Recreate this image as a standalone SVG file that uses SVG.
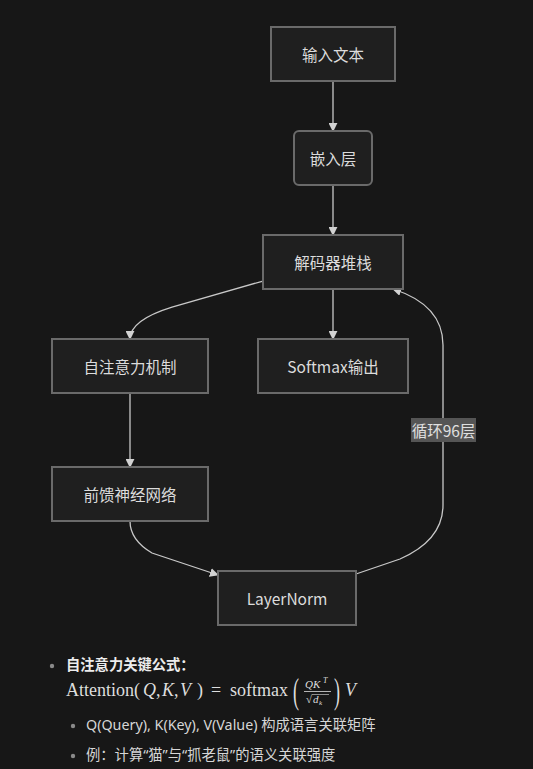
<svg xmlns="http://www.w3.org/2000/svg" width="533" height="769" viewBox="0 0 533 769">
<style>
.node rect{fill:#1f1f1f;stroke:#6a6a6a;stroke-width:2}
.node text{fill:#dcdcdc;font-family:"Noto Sans CJK SC","Noto Sans",sans-serif;font-size:15.5px;text-anchor:middle;dominant-baseline:central}
.edge{fill:none;stroke:#c8c8c8;stroke-width:1.3}
.note{fill:#d6d6d6;font-family:"Noto Sans","Noto Sans CJK SC",sans-serif;font-size:14.3px}
.math{fill:#dedede;font-family:"Liberation Serif","DejaVu Serif",serif;font-size:18px}
.bullet{fill:#8a8a8a}
</style>
<defs>
<marker id="arrow" viewBox="0 0 10 10" refX="9" refY="5" markerWidth="9" markerHeight="9" markerUnits="userSpaceOnUse" orient="auto">
<path d="M0,0 L10,5 L0,10 z" fill="#d2d2d2"/>
</marker>
</defs>
<rect width="533" height="769" fill="#171717"/>

<g id="connectors">
<path class="edge" d="M333,81 L333,131" marker-end="url(#arrow)"/>
<path class="edge" d="M333,185 L333,235" marker-end="url(#arrow)"/>
<path class="edge" d="M263,281 L172,307 Q130,320 130,339" marker-end="url(#arrow)"/>
<path class="edge" d="M333,289 L333,339" marker-end="url(#arrow)"/>
<path class="edge" d="M130,393 L130,467" marker-end="url(#arrow)"/>
<path class="edge" d="M130,521 Q130,540 152,553 L218,575" marker-end="url(#arrow)"/>
<path class="edge" d="M356,574 L400,559 Q443,540 443,505 L443,345 Q443,305 393,289" marker-end="url(#arrow)"/>
<g id="edge-label">
<rect x="411" y="418" width="65" height="24" fill="#555555"/>
<text x="443.5" y="430" style="fill:#e0e0e0;font-family:'Noto Sans CJK SC',sans-serif;font-size:15.5px;text-anchor:middle;dominant-baseline:central">循环96层</text>
</g>
</g>

<g id="n-input" class="node"><rect x="271" y="27" width="124" height="54"/><text x="333" y="54">输入文本</text></g>
<g id="n-embed" class="node"><rect x="294" y="131" width="78" height="54" rx="5"/><text x="333" y="158">嵌入层</text></g>
<g id="n-decoder" class="node"><rect x="263" y="235" width="140" height="54"/><text x="333" y="262">解码器堆栈</text></g>
<g id="n-attn" class="node"><rect x="52" y="339" width="156" height="54"/><text x="130" y="366">自注意力机制</text></g>
<g id="n-softmax" class="node"><rect x="258" y="339" width="150" height="54"/><text x="333" y="366">Softmax输出</text></g>
<g id="n-ffn" class="node"><rect x="52" y="467" width="156" height="54"/><text x="130" y="494">前馈神经网络</text></g>
<g id="n-ln" class="node"><rect x="218" y="571" width="138" height="54"/><text x="287" y="598">LayerNorm</text></g>

<g id="notes">
<circle class="bullet" cx="52" cy="666" r="2.2"/>
<text class="note" x="66" y="670" font-weight="bold" style="fill:#ececec">自注意力关键公式：</text>
<g class="math">
<text x="66" y="696">Attention(</text>
<text x="143" y="696" font-style="italic">Q</text>
<text x="156" y="696">,</text>
<text x="162" y="696" font-style="italic">K</text>
<text x="174" y="696">,</text>
<text x="180" y="696" font-style="italic">V</text>
<text x="197" y="696">)</text>
<text x="211" y="696">=</text>
<text x="230" y="696">softmax</text>
<text x="293" y="703" font-size="36" transform="translate(293 703) scale(0.5 1) translate(-293 -703)">(</text>
<text x="305" y="688" font-size="11" font-style="italic">QK</text>
<text x="323" y="683" font-size="8" font-style="italic">T</text>
<line x1="304" y1="691.5" x2="331" y2="691.5" stroke="#dedede" stroke-width="0.8"/>
<text x="306" y="703" font-size="11">√</text>
<line x1="312" y1="694.5" x2="329" y2="694.5" stroke="#dedede" stroke-width="0.6"/>
<text x="313" y="703" font-size="11" font-style="italic">d</text>
<text x="319" y="705" font-size="7" font-style="italic">k</text>
<text x="334" y="703" font-size="36" transform="translate(334 703) scale(0.5 1) translate(-334 -703)">)</text>
<text x="345" y="696" font-style="italic">V</text>
</g>
<circle class="bullet" cx="73" cy="726" r="2.2"/>
<text class="note" x="86" y="730">Q(Query), K(Key), V(Value) 构成语言关联矩阵</text>
<circle class="bullet" cx="73" cy="756" r="2.2"/>
<text class="note" x="86" y="760">例：计算“猫”与“抓老鼠”的语义关联强度</text>
</g>
</svg>
